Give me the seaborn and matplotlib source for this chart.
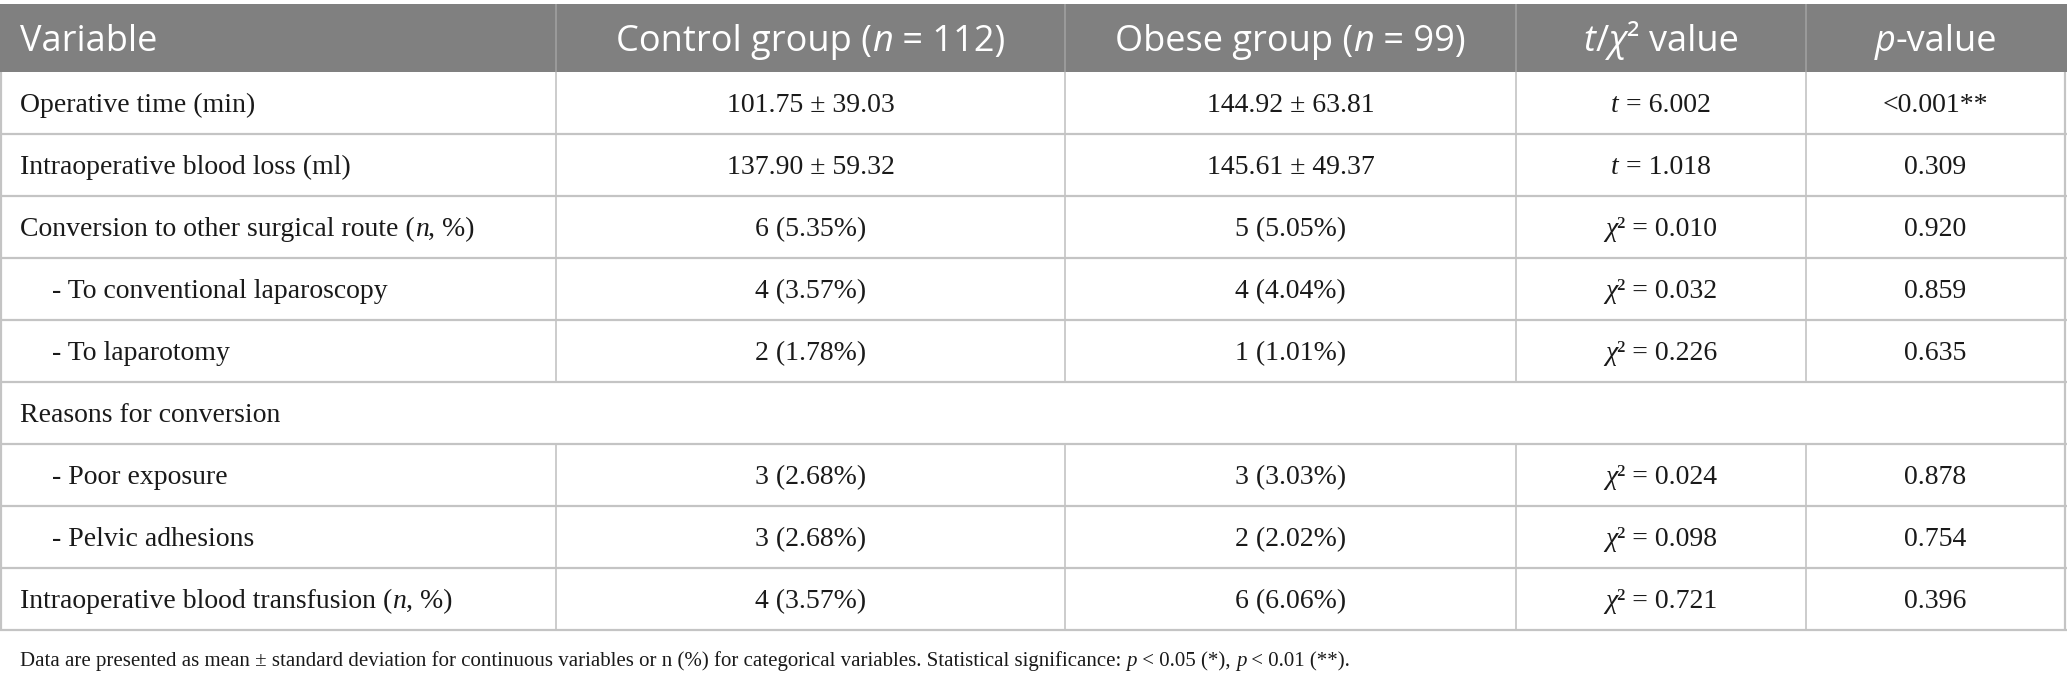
import matplotlib
matplotlib.use("Agg")
import matplotlib.pyplot as plt
from matplotlib.patches import Rectangle
import seaborn as sns

# table content ("|" marks italic pieces)
header = ["Variable", "Control group (|n| = 112)", "Obese group (|n| = 99)",
          "|t|/|χ|² value", "|p|-value"]
variables = ["Operative time (min)",
             "Intraoperative blood loss (ml)",
             "Conversion to other surgical route (|n|, %)",
             "- To conventional laparoscopy",
             "- To laparotomy",
             "Reasons for conversion",
             "- Poor exposure",
             "- Pelvic adhesions",
             "Intraoperative blood transfusion (|n|, %)"]
control = ["101.75 ± 39.03", "137.90 ± 59.32", "6 (5.35%)", "4 (3.57%)", "2 (1.78%)",
           "", "3 (2.68%)", "3 (2.68%)", "4 (3.57%)"]
obese = ["144.92 ± 63.81", "145.61 ± 49.37", "5 (5.05%)", "4 (4.04%)", "1 (1.01%)",
         "", "3 (3.03%)", "2 (2.02%)", "6 (6.06%)"]
stat = ["|t| = 6.002", "|t| = 1.018", "|χ|² = 0.010", "|χ|² = 0.032", "|χ|² = 0.226",
        "", "|χ|² = 0.024", "|χ|² = 0.098", "|χ|² = 0.721"]
pvals = ["<0.001**", "0.309", "0.920", "0.859", "0.635", "", "0.878", "0.754", "0.396"]
footnote = ("Data are presented as mean ± standard deviation for continuous variables or "
            "n (%) for categorical variables. Statistical significance: |p| < 0.05 (*), "
            "|p| < 0.01 (**).")

# layout in pixels
W, H = 2067, 684
col_edges = [1, 556, 1065, 1516, 1806, 2065]
head_top, head_bot = 4, 72
row_h = 62
HEAD_FONT = "Open Sans"
BODY_FONT = "Liberation Serif"
HEAD_SIZE = 26
BODY_SIZE = 20
FOOT_SIZE = 15
LINE_COL = "#c4c4c4"

sns.set_theme(style="white")
plt.rcParams["font.family"] = [BODY_FONT, "DejaVu Serif"]

fig = plt.figure(figsize=(W / 100, H / 100), dpi=100)
ax = fig.add_axes([0, 0, 1, 1])
ax.set_xlim(0, W)
ax.set_ylim(H, 0)
ax.axis("off")
renderer = fig.canvas.get_renderer()


def piece_width(s, family, size, italic):
    # measure advance width using padding characters
    style = "italic" if italic else "normal"
    t1 = ax.text(0, 0, "a" + s + "a", family=family, size=size, style=style)
    t2 = ax.text(0, 0, "aa", family=family, size=size, style=style)
    w = t1.get_window_extent(renderer).width - t2.get_window_extent(renderer).width
    t1.remove()
    t2.remove()
    return w


def rich_text(x, y, s, family, size, color, ha="left"):
    parts = s.split("|")
    widths = [piece_width(p, family, size, i % 2 == 1) for i, p in enumerate(parts)]
    total = sum(widths)
    if ha == "center":
        x = x - total / 2
    for i, p in enumerate(parts):
        if p:
            ax.text(x, y, p, family=family, size=size, color=color,
                    style="italic" if i % 2 == 1 else "normal",
                    ha="left", va="baseline")
        x += widths[i]


# header band
ax.add_patch(Rectangle((0, head_top), W, head_bot - head_top, color="#808080", lw=0))
for xe in col_edges[1:-1]:
    ax.vlines(xe, head_top, head_bot, color="#a0a0a0", lw=1.2)

head_base = (head_top + head_bot) / 2 + 13
rich_text(20, head_base, header[0], HEAD_FONT, HEAD_SIZE, "white")
for j in range(1, 5):
    cx = (col_edges[j] + col_edges[j + 1]) / 2
    rich_text(cx, head_base, header[j], HEAD_FONT, HEAD_SIZE, "white", ha="center")

# body rows
n_rows = len(variables)
for i in range(n_rows):
    top = head_bot + i * row_h
    base = top + row_h / 2 + 9
    label = variables[i]
    x0 = 52 if label.startswith("-") else 20
    rich_text(x0, base, label, BODY_FONT, BODY_SIZE, "#1a1a1a")
    for j, col in enumerate([control, obese, stat, pvals], start=1):
        if col[i]:
            cx = (col_edges[j] + col_edges[j + 1]) / 2
            rich_text(cx, base, col[i], BODY_FONT, BODY_SIZE, "#1a1a1a", ha="center")
    ax.hlines(top + row_h, 0, W, color=LINE_COL, lw=1.6)
    # spanning row has no inner vertical lines
    if control[i] or obese[i] or stat[i] or pvals[i]:
        ax.vlines(col_edges[1:-1], top, top + row_h, color=LINE_COL, lw=1.2)

bottom = head_bot + n_rows * row_h
ax.vlines([col_edges[0], col_edges[-1]], head_bot, bottom, color=LINE_COL, lw=1.6)

rich_text(20, bottom + 36, footnote, BODY_FONT, FOOT_SIZE, "#1a1a1a")

fig.savefig("out.png", dpi=100, facecolor="white")
